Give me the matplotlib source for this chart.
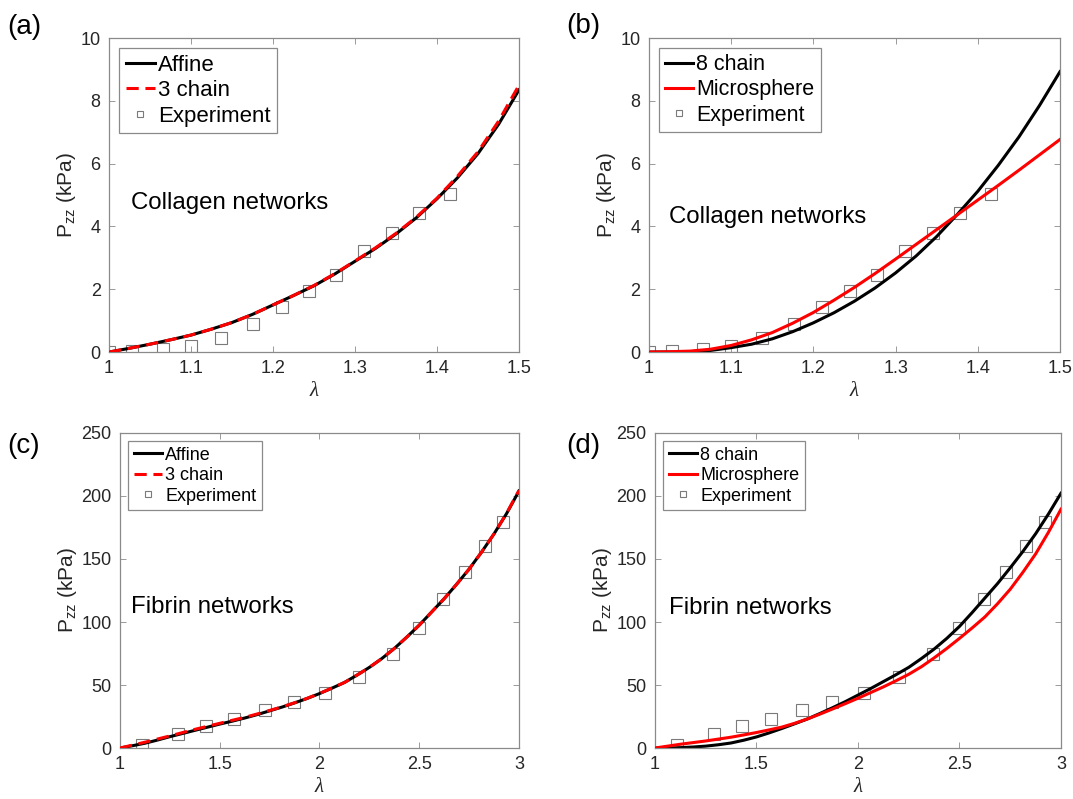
import matplotlib
matplotlib.use("Agg")
import matplotlib.pyplot as plt

plt.rcParams["font.family"] = ["Liberation Sans", "DejaVu Sans"]
plt.rcParams["mathtext.fontset"] = "custom"
plt.rcParams["mathtext.rm"] = "Liberation Sans"
plt.rcParams["mathtext.it"] = "Liberation Sans:italic"

# Collagen networks: experimental points (shared by panels a and b)
collagen_exp_lam = [1.0, 1.028, 1.066, 1.100, 1.137, 1.176, 1.211, 1.244, 1.277, 1.311, 1.345, 1.378, 1.416]
collagen_exp_p = [0.0, 0.03, 0.10, 0.19, 0.45, 0.88, 1.42, 1.95, 2.46, 3.23, 3.80, 4.44, 5.04]

# Collagen model curves
collagen_lam = [1.0, 1.025, 1.05, 1.075, 1.1, 1.125, 1.15, 1.175, 1.2, 1.225, 1.25,
                1.275, 1.3, 1.325, 1.35, 1.375, 1.4, 1.425, 1.45, 1.475, 1.5]
affine_a = [0.0, 0.12, 0.25, 0.39, 0.54, 0.73, 0.94, 1.20, 1.50, 1.80, 2.11,
            2.48, 2.89, 3.30, 3.76, 4.28, 4.88, 5.55, 6.32, 7.25, 8.35]
three_chain_a = [0.0, 0.12, 0.25, 0.39, 0.54, 0.73, 0.94, 1.20, 1.50, 1.80, 2.12,
                 2.49, 2.90, 3.32, 3.78, 4.30, 4.90, 5.60, 6.38, 7.35, 8.50]
eight_chain_b = [0.0, 0.0, 0.01, 0.05, 0.14, 0.25, 0.42, 0.65, 0.93, 1.25, 1.62,
                 2.04, 2.52, 3.06, 3.68, 4.38, 5.12, 5.95, 6.85, 7.85, 8.93]
microsphere_b = [0.0, 0.01, 0.03, 0.09, 0.21, 0.39, 0.62, 0.92, 1.26, 1.65, 2.06,
                 2.50, 2.96, 3.43, 3.90, 4.37, 4.84, 5.31, 5.79, 6.28, 6.77]

# Fibrin networks: experimental points (shared by panels c and d)
fibrin_exp_lam = [1.11, 1.29, 1.43, 1.57, 1.725, 1.87, 2.03, 2.20, 2.37, 2.50, 2.62, 2.73, 2.83, 2.92]
fibrin_exp_p = [2.7, 11.5, 17.5, 23.0, 30.2, 36.8, 44.0, 56.0, 75.0, 95.0, 118.4, 139.4, 160.6, 179.5]

# Fibrin model curves
fibrin_lam = [1.0, 1.0625, 1.125, 1.1875, 1.25, 1.3125, 1.375, 1.4375, 1.5, 1.5625, 1.625,
              1.6875, 1.75, 1.8125, 1.875, 1.9375, 2.0, 2.0625, 2.125, 2.1875, 2.25,
              2.3125, 2.375, 2.4375, 2.5, 2.5625, 2.625, 2.6875, 2.75, 2.8125, 2.875,
              2.9375, 3.0]
affine_c = [0.0, 1.8, 3.8, 6.3, 9.0, 11.5, 14.0, 16.5, 19.0, 21.3, 23.8,
            26.5, 29.5, 32.5, 35.8, 39.3, 43.2, 47.5, 52.0, 57.8, 64.0,
            71.0, 79.0, 88.0, 97.5, 108.0, 118.5, 130.0, 142.0, 155.5, 170.0,
            186.0, 204.0]
three_chain_c = [0.0, 2.3, 4.6, 7.1, 9.6, 12.2, 14.8, 17.2, 19.6, 22.0, 24.3,
                 27.0, 29.8, 32.7, 35.9, 39.4, 43.3, 47.6, 52.0, 57.8, 64.0,
                 71.0, 79.0, 88.0, 97.5, 108.0, 118.5, 130.0, 142.0, 155.5, 170.0,
                 186.2, 204.5]
eight_chain_d = [0.0, 0.05, 0.3, 0.8, 1.5, 2.6, 4.0, 6.2, 8.8, 12.0, 15.5,
                 19.2, 23.0, 27.4, 32.0, 36.8, 42.0, 47.2, 52.7, 58.2, 64.0,
                 71.0, 78.5, 87.0, 96.5, 107.5, 119.0, 130.5, 143.0, 156.0, 170.0,
                 185.5, 202.2]
microsphere_d = [0.0, 1.5, 3.0, 4.3, 5.6, 7.1, 8.6, 10.4, 12.3, 14.4, 16.6,
                 19.6, 23.0, 26.9, 31.0, 35.2, 39.5, 44.0, 48.5, 53.4, 58.5,
                 64.5, 71.5, 79.0, 87.0, 95.3, 104.0, 114.5, 126.0, 139.5, 154.0,
                 171.0, 189.5]

collagen_xticks = [1, 1.1, 1.2, 1.3, 1.4, 1.5]
collagen_yticks = [0, 2, 4, 6, 8, 10]
fibrin_xticks = [1, 1.5, 2, 2.5, 3]
fibrin_yticks = [0, 50, 100, 150, 200, 250]

AXIS_GRAY = "#8a8a8a"
TEXT_DARK = "#262626"


def style_axes(ax, xticks, yticks, xlim, ylim):
    ax.set_xlim(xlim)
    ax.set_ylim(ylim)
    ax.set_xticks(xticks)
    ax.set_yticks(yticks)
    ax.set_xticklabels([f"{t:g}" for t in xticks])
    ax.set_yticklabels([f"{t:g}" for t in yticks])
    ax.tick_params(direction="in", length=4, width=0.6, color=AXIS_GRAY,
                   labelsize=13, labelcolor=TEXT_DARK, top=True, right=True, pad=6)
    for s in ax.spines.values():
        s.set_color(AXIS_GRAY)
        s.set_linewidth(0.9)
    ax.set_xlabel("λ", family="Liberation Serif", style="italic", fontsize=15,
                  color=TEXT_DARK, labelpad=3)
    ax.set_ylabel(r"P$_{\mathrm{zz}}$ (kPa)", fontsize=15, color=TEXT_DARK, labelpad=2)


def add_experiment(ax, lam, p):
    ax.plot(lam, p, linestyle="none", marker="s", markersize=8.5,
            markerfacecolor="none", markeredgecolor="#7a7a7a",
            markeredgewidth=0.8, label="Experiment", zorder=1)


def add_legend(ax, fontsize, handlelength):
    h, l = ax.get_legend_handles_labels()
    order = [1, 2, 0]
    leg = ax.legend([h[i] for i in order], [l[i] for i in order], loc="upper left",
                    fontsize=fontsize, frameon=True, fancybox=False, framealpha=1,
                    edgecolor=AXIS_GRAY, markerscale=0.45, handlelength=handlelength,
                    handletextpad=0.15, labelspacing=0.2, borderpad=0.3,
                    borderaxespad=0.45)
    leg.get_frame().set_linewidth(0.9)


def build_chart() -> None:
    fig = plt.figure(figsize=(10.73, 7.99), dpi=100)

    ax_a = fig.add_axes([0.1016, 0.5594, 0.3821, 0.3930])
    ax_b = fig.add_axes([0.6048, 0.5594, 0.3831, 0.3930])
    ax_c = fig.add_axes([0.1118, 0.0638, 0.3719, 0.3943])
    ax_d = fig.add_axes([0.6104, 0.0638, 0.3784, 0.3943])

    dash = (4, 2.2)

    # (a) collagen, affine vs 3 chain
    add_experiment(ax_a, collagen_exp_lam, collagen_exp_p)
    ax_a.plot(collagen_lam, affine_a, color="black", lw=2.2, label="Affine", zorder=2)
    ax_a.plot(collagen_lam, three_chain_a, color="red", lw=2.2, dashes=dash,
              label="3 chain", zorder=3)
    style_axes(ax_a, collagen_xticks, collagen_yticks, (1, 1.5), (0, 10))
    add_legend(ax_a, 16, 1.3)
    ax_a.text(0.054, 0.475, "Collagen networks", transform=ax_a.transAxes,
              fontsize=17.3, va="center", ha="left")

    # (b) collagen, 8 chain vs microsphere
    add_experiment(ax_b, collagen_exp_lam, collagen_exp_p)
    ax_b.plot(collagen_lam, eight_chain_b, color="black", lw=2.2, label="8 chain", zorder=2)
    ax_b.plot(collagen_lam, microsphere_b, color="red", lw=2.2, label="Microsphere", zorder=3)
    style_axes(ax_b, collagen_xticks, collagen_yticks, (1, 1.5), (0, 10))
    add_legend(ax_b, 15.5, 1.3)
    ax_b.text(0.049, 0.43, "Collagen networks", transform=ax_b.transAxes,
              fontsize=17.3, va="center", ha="left")

    # (c) fibrin, affine vs 3 chain
    add_experiment(ax_c, fibrin_exp_lam, fibrin_exp_p)
    ax_c.plot(fibrin_lam, affine_c, color="black", lw=2.2, label="Affine", zorder=2)
    ax_c.plot(fibrin_lam, three_chain_c, color="red", lw=2.2, dashes=dash,
              label="3 chain", zorder=3)
    style_axes(ax_c, fibrin_xticks, fibrin_yticks, (1, 3), (0, 250))
    add_legend(ax_c, 13, 1.6)
    ax_c.text(0.0275, 0.448, "Fibrin networks", transform=ax_c.transAxes,
              fontsize=17.3, va="center", ha="left")

    # (d) fibrin, 8 chain vs microsphere
    add_experiment(ax_d, fibrin_exp_lam, fibrin_exp_p)
    ax_d.plot(fibrin_lam, eight_chain_d, color="black", lw=2.2, label="8 chain", zorder=2)
    ax_d.plot(fibrin_lam, microsphere_d, color="red", lw=2.2, label="Microsphere", zorder=3)
    style_axes(ax_d, fibrin_xticks, fibrin_yticks, (1, 3), (0, 250))
    add_legend(ax_d, 13, 1.6)
    ax_d.text(0.034, 0.444, "Fibrin networks", transform=ax_d.transAxes,
              fontsize=17.3, va="center", ha="left")

    # Panel letters
    for lbl, x, y in [("(a)", 0.007, 0.966), ("(b)", 0.528, 0.968),
                      ("(c)", 0.007, 0.442), ("(d)", 0.528, 0.442)]:
        fig.text(x, y, lbl, fontsize=20, ha="left", va="center")

    fig.savefig("out.png", dpi=100)


def main() -> None:
    build_chart()


if __name__ == "__main__":
    main()
